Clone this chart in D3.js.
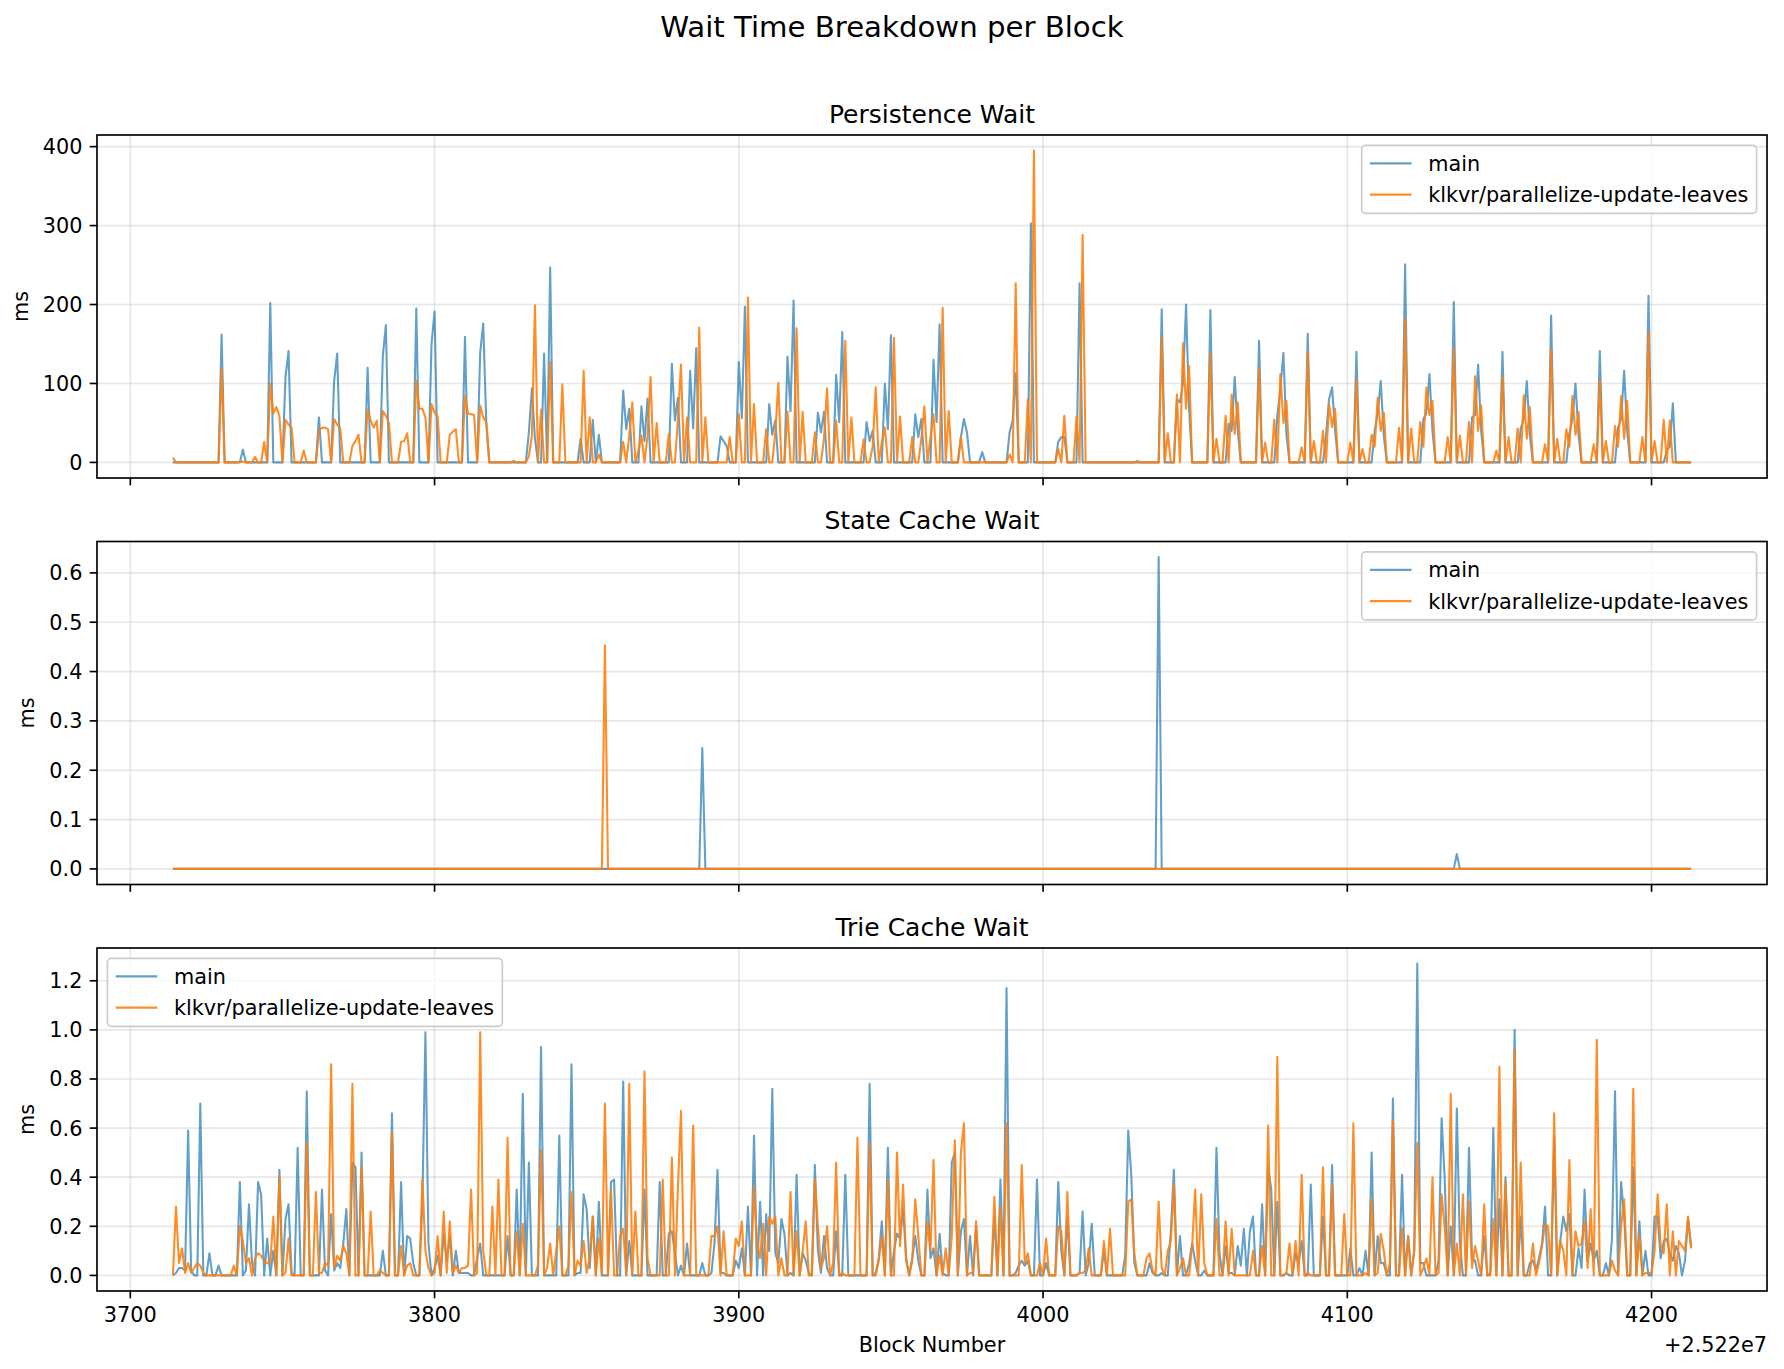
<!DOCTYPE html>
<html>
<head>
<meta charset="utf-8">
<script src="https://cdn.jsdelivr.net/npm/d3@7"></script>
<style>
  body { margin: 0; background: #fff; }
  svg { display: block; font-family: "DejaVu Sans", sans-serif; }
</style>
</head>
<body>
<div id="viz"></div>
<script>
// one value per block, blocks 25223714 .. 25224213
var firstBlock = 25223714
var blockOffset = 25220000
var seriesNames = ["main", "klkvr/parallelize-update-leaves"]

var persistenceMain = [
  0,0,0,0,0,0,0,0,0,0, 0,0,0,0,0,0,162,0,0,0, 0,0,0,16,0,0,0,0,0,0,
  0,0,202,0,0,0,0,108,141,0, 0,0,0,0,0,0,0,0,57,0, 0,0,0,103,138,0,0,0,0,0,
  0,0,0,0,120,0,0,0,0,135, 174,0,0,0,0,0,0,0,0,0, 195,0,0,0,0,150,191,0,0,0,
  0,0,0,0,0,0,159,0,0,0, 0,139,176,50,0,0,0,0,0,0, 0,0,0,0,0,0,0,38,94,30,
  0,0,138,0,247,0,0,0,0,0, 0,0,0,0,30,0,0,0,54,0, 35,0,0,0,0,0,0,0,91,42,
  68,0,0,0,71,27,81,0,0,0, 0,0,0,0,125,53,82,0,0,0, 116,43,145,0,0,0,0,0,0,0,
  33,27,21,0,0,0,127,56,197,0, 0,0,0,0,0,0,74,35,53,0, 0,0,134,65,205,0,0,0,0,0,
  0,0,63,38,64,0,0,0,111,51, 165,0,0,0,0,0,0,0,51,27, 40,0,0,0,100,42,161,0,0,0,
  0,0,0,0,61,32,55,0,0,0, 130,51,175,0,0,0,0,0,0,32, 55,38,0,0,0,0,13,0,0,0,
  0,0,0,0,0,38,53,113,0,0, 0,0,303,0,0,0,0,0,0,0, 0,26,32,32,0,0,0,0,227,0,
  0,0,0,0,0,0,0,0,0,0, 0,0,0,0,0,0,0,0,0,0, 0,0,0,0,0,194,0,0,0,0,
  80,76,100,200,68,0,0,0,0,0, 0,193,0,0,0,0,0,49,40,108, 40,0,0,0,0,0,0,154,0,0,
  0,0,0,59,93,139,35,0,0,0, 0,0,0,163,0,0,0,0,0,34, 80,95,40,0,0,0,0,0,0,140,
  0,0,0,0,0,40,62,103,34,0, 0,0,0,0,0,251,0,0,0,0, 0,55,62,112,40,0,0,0,0,0,
  0,203,0,0,0,0,0,57,60,124, 40,0,0,0,0,0,0,140,0,0, 0,0,0,43,55,103,35,0,0,0,
  0,0,0,186,0,0,0,0,0,37, 55,100,35,0,0,0,0,0,0,141, 0,0,0,0,0,44,55,116,40,0,
  0,0,0,0,0,211,0,0,0,0, 0,15,20,75,0,0,0,0,0,0
]

var persistenceBranch = [
  6,0,0,0,0,0,0,0,0,0, 0,0,0,0,0,0,120,0,0,0, 0,0,1,1,0,0,0,7,0,0,
  26,0,100,62,70,59,0,54,48,44, 0,0,0,15,0,0,0,0,40,44, 44,42,0,55,48,43,0,0,0,21,
  27,35,0,0,67,53,44,53,0,65, 59,50,0,0,0,26,27,37,0,0, 103,68,68,57,0,74,63,58,0,0,
  0,35,39,42,0,0,84,62,61,60, 0,72,57,51,0,0,0,0,0,0, 0,0,2,0,0,0,0,8,34,199,
  0,67,0,0,127,0,0,0,99,0, 0,0,0,0,0,116,0,57,0,0, 10,0,0,0,0,0,0,0,26,0,
  34,76,0,15,34,0,34,108,0,50, 0,0,0,36,0,0,55,124,0,57, 0,0,0,171,0,57,0,0,0,0,
  0,0,0,32,0,0,61,0,0,209, 0,74,0,0,0,42,0,0,38,101, 0,0,64,0,0,170,0,64,0,0,
  0,38,0,0,30,94,0,0,53,0, 0,154,0,57,0,0,0,29,0,0, 20,95,0,25,44,0,0,158,0,58,
  0,0,0,32,0,0,30,71,0,32, 61,0,0,196,0,65,0,0,0,32, 0,0,0,0,0,0,0,0,0,0,
  0,0,0,0,0,10,0,227,0,0, 0,80,0,395,0,0,0,0,0,0, 0,17,0,59,0,0,0,58,0,288,
  0,0,0,0,0,0,0,0,0,0, 0,0,0,0,0,0,0,2,0,0, 0,0,0,0,0,158,0,37,0,0,
  86,0,151,68,122,0,0,0,0,0, 0,138,0,30,0,0,59,0,86,36, 76,0,0,0,0,0,0,118,0,25,
  0,0,54,0,112,50,78,0,0,0, 0,19,0,140,0,27,0,0,40,0, 74,45,68,0,0,0,0,25,0,105,
  0,17,0,0,35,20,82,40,63,0, 0,0,0,44,0,182,0,43,0,0, 51,20,95,60,78,0,0,0,0,32,
  0,145,0,34,0,0,51,0,109,40, 72,0,0,0,0,15,0,109,0,32, 0,0,43,0,85,30,70,0,0,0,
  0,23,0,143,0,30,0,0,42,20, 84,35,64,0,0,0,0,23,0,105, 0,27,0,0,46,20,84,30,78,0,
  0,0,0,32,0,165,0,27,0,0, 54,0,53,0,0,0,0,0,0,0
]

// state cache wait is zero except for these blocks
var stateCacheMainSpikes = [[25223888, 0.245], [25224038, 0.632], [25224136, 0.03]]
var stateCacheBranchSpikes = [[25223856, 0.453]]

var trieMain = [
  0,0.01,0.03,0.03,0.02,0.59,0.02,0,0,0.70, 0,0,0.09,0,0,0.04,0,0,0,0,
  0,0,0.38,0,0.02,0.29,0.05,0,0.38,0.33, 0,0.15,0,0.10,0,0.43,0,0.23,0.29,0.01,
  0,0.52,0,0,0.75,0,0,0,0,0.35, 0.02,0,0.25,0.02,0.05,0.03,0.13,0.27,0,0.46,
  0.44,0,0.50,0,0,0,0,0,0,0.10, 0,0,0.66,0,0,0.38,0,0.16,0.15,0.05,
  0,0,0.30,0.99,0.13,0,0.03,0.08,0,0.17, 0.06,0.16,0,0.10,0.01,0.01,0.01,0.01,0,0,
  0.07,0.13,0,0,0,0,0,0,0,0, 0.16,0,0,0.35,0,0.74,0,0.46,0,0,
  0,0.93,0,0,0,0,0,0.57,0,0, 0,0.86,0,0.01,0.01,0.33,0.27,0.03,0.24,0,
  0.30,0,0,0,0.38,0.39,0,0,0.79,0, 0.14,0,0,0,0,0.35,0,0,0,0,
  0.38,0,0,0.17,0.18,0.09,0,0.04,0,0.13, 0,0,0,0,0.05,0,0,0.01,0.13,0.43,
  0.01,0.01,0,0,0,0.06,0.03,0.11,0,0.28, 0,0.57,0,0.30,0,0.25,0.10,0.76,0.09,0.05,
  0.23,0.17,0,0.01,0,0.41,0,0.09,0.06,0.01, 0,0.45,0.10,0.01,0.16,0.03,0,0,0.18,0,
  0,0.41,0,0,0,0,0,0,0,0.78, 0,0.01,0.07,0.22,0,0.52,0,0.10,0.17,0.15,
  0.27,0.07,0,0.07,0.16,0.06,0,0,0.35,0.07, 0.11,0,0.17,0.01,0,0,0.46,0.50,0,0.18,
  0.23,0,0.16,0,0.20,0,0,0,0,0, 0.24,0,0.39,0,1.17,0,0,0.01,0.04,0.06,
  0.04,0.06,0,0,0.39,0,0,0.05,0,0, 0,0.38,0.10,0,0.24,0,0,0,0.01,0.26,
  0,0.05,0.21,0,0,0,0.10,0,0,0, 0,0,0,0.08,0.59,0.41,0.05,0,0,0,
  0,0.05,0.01,0,0,0.01,0,0,0.18,0.43, 0,0.16,0,0,0.05,0.13,0.06,0,0,0.02,
  0,0,0,0.52,0.09,0,0.12,0.01,0.01,0, 0.12,0.04,0.19,0,0.18,0.24,0,0,0.29,0,
  0.44,0.35,0,0.30,0,0,0.01,0,0,0.09, 0.05,0.14,0,0,0.37,0,0,0,0.24,0,
  0,0.45,0,0,0,0,0,0.11,0,0, 0.03,0,0.10,0,0.50,0,0.16,0.05,0.05,0,
  0,0.72,0,0,0.41,0,0.16,0,0.10,1.27, 0.05,0.05,0,0,0,0,0.06,0.64,0.40,0,
  0.20,0,0.68,0.13,0,0,0.52,0.07,0.06,0, 0,0.16,0,0.01,0.60,0,0.31,0,0.40,0,
  0,1.00,0,0.24,0,0,0.05,0.06,0.02,0.07, 0.13,0.28,0,0,0.56,0,0.14,0.24,0.18,0.25,
  0,0,0.11,0.03,0.35,0.06,0.13,0.06,0.10,0, 0,0.05,0,0.15,0.75,0,0.38,0.24,0,0,
  0.44,0,0.22,0,0.10,0,0,0.24,0.24,0.07, 0.14,0.15,0.09,0.06,0.12,0.09,0,0.06,0.23,0.12
]

var trieBranch = [
  0,0.28,0.05,0.11,0.01,0.05,0.01,0.03,0.05,0.04, 0.01,0,0,0,0,0,0,0,0,0,
  0.04,0,0.20,0.14,0.05,0.07,0,0.07,0.09,0.08, 0.06,0.05,0.05,0.24,0,0.40,0,0.01,0.15,0,
  0,0,0,0,0.54,0,0,0.34,0.01,0.01, 0.05,0.04,0.86,0.03,0.08,0.06,0.12,0.09,0,0.78,
  0,0,0.44,0,0,0.26,0,0,0.02,0.01, 0,0,0.58,0,0,0.12,0,0.04,0.05,0,
  0,0,0.39,0.10,0.03,0,0.01,0.16,0,0.26, 0.01,0.22,0.01,0.04,0.01,0.03,0.03,0.04,0.35,0,
  0.01,0.99,0.10,0,0,0.28,0,0.39,0,0, 0.56,0,0,0.18,0,0.21,0,0,0,0,
  0.04,0.51,0,0.03,0.13,0,0.10,0.20,0,0, 0.04,0.34,0,0.06,0.04,0.14,0.01,0.07,0.24,0,
  0.15,0,0.70,0,0.35,0,0,0.16,0.19,0, 0.78,0,0.26,0,0,0.83,0.07,0,0,0,
  0,0.39,0,0,0.48,0,0.36,0.67,0,0, 0,0.61,0,0,0,0,0,0.16,0.16,0.20,
  0,0.18,0,0,0,0.15,0.12,0.22,0,0, 0,0.36,0.13,0.07,0.21,0,0.24,0.21,0.24,0,
  0.07,0,0,0.34,0,0.18,0,0.10,0.22,0, 0,0.39,0.20,0.03,0.07,0.20,0,0.05,0.46,0,
  0.01,0,0,0,0,0.56,0,0,0,0.54, 0,0,0.06,0.16,0,0.39,0,0,0.50,0.12,
  0.37,0.06,0,0.06,0.31,0.16,0,0,0.22,0.10, 0.47,0,0.08,0,0.11,0,0.16,0.55,0,0.50,
  0.62,0,0.01,0.01,0.22,0,0,0,0,0, 0.32,0,0.28,0,0.62,0,0,0,0,0.45,
  0.05,0.09,0,0,0,0.05,0,0.15,0,0, 0,0.20,0.18,0,0.34,0,0,0,0.01,0.01,
  0.02,0.11,0,0,0,0,0.14,0,0.19,0, 0,0,0,0,0.30,0.31,0.09,0,0,0,
  0.07,0.09,0.02,0,0.30,0.03,0,0.10,0.14,0.37, 0,0.03,0.07,0,0,0.12,0.35,0,0.33,0.05,
  0,0,0,0.23,0,0,0.22,0,0.19,0, 0,0,0,0,0,0.10,0,0,0.12,0,
  0.61,0,0,0.89,0,0,0.01,0.13,0,0.14, 0,0.41,0,0.01,0,0,0,0,0.44,0,
  0,0.37,0,0,0,0.25,0,0,0.62,0, 0,0,0.01,0,0.31,0,0.01,0.17,0.10,0,
  0.05,0.63,0,0,0.19,0,0.16,0,0.10,0.54, 0,0.03,0.07,0,0.40,0,0.01,0.33,0.20,0,
  0.74,0,0.13,0,0.33,0,0.30,0.03,0.12,0.06, 0,0.29,0,0,0.23,0,0.85,0,0.38,0,
  0,0.92,0,0.46,0,0,0,0.13,0,0.05, 0.12,0.21,0.20,0,0.66,0,0.14,0.10,0,0.47,
  0,0.18,0.12,0.13,0.22,0.03,0.27,0,0.96,0, 0,0,0,0.06,0.02,0,0.20,0.31,0,0,
  0.76,0,0.16,0,0.01,0.01,0.01,0.10,0.33,0.12, 0.09,0.29,0,0.18,0,0.14,0.12,0.10,0.24,0.11
]

var blocks = d3.range(persistenceMain.length).map(i => firstBlock + i)

function spikesToSeries(spikes) {
  var vals = blocks.map(() => 0)
  spikes.forEach(s => { vals[s[0] - firstBlock] = s[1] })
  return vals
}

var stateCacheMain = spikesToSeries(stateCacheMainSpikes)
var stateCacheBranch = spikesToSeries(stateCacheBranchSpikes)

// ---------- layout (matplotlib at 150 dpi)
var width = 1784, height = 1369
var fs = 20.8                       // 10pt
var left = 97, right = 1767
var panelH = 343
var tickLen = 7.3, tickPad = 7.3
var colors = ["#1f77b4", "#ff7f0e"]
var alphas = [0.7, 0.9]

var panels = [
  { title: "Persistence Wait", top: 135, series: [persistenceMain, persistenceBranch], ticks: 5, fmt: d3.format("d"), legend: "right" },
  { title: "State Cache Wait", top: 541.5, series: [stateCacheMain, stateCacheBranch], ticks: 7, fmt: d3.format(".1f"), legend: "right" },
  { title: "Trie Cache Wait", top: 948, series: [trieMain, trieBranch], ticks: 7, fmt: d3.format(".1f"), legend: "left" }
]

var svg = d3.select("#viz")
  .append("svg")
  .attr("width", width)
  .attr("height", height)

svg.append("rect").attr("width", width).attr("height", height).attr("fill", "#fff")

svg.append("text")
  .attr("x", width / 2)
  .attr("y", 37)
  .attr("text-anchor", "middle")
  .style("font-size", "29.2px")
  .text("Wait Time Breakdown per Block")

// shared x scale with 5% margins like matplotlib
var xExt = d3.extent(blocks)
var xPad = (xExt[1] - xExt[0]) * 0.05
var x = d3.scaleLinear()
  .domain([xExt[0] - xPad, xExt[1] + xPad])
  .range([left, right])
var xTicks = x.ticks(6)

panels.forEach((p, pi) => {
  var top = p.top, bottom = top + panelH
  var allVals = p.series[0].concat(p.series[1])
  var yExt = d3.extent(allVals)
  var yPad = (yExt[1] - yExt[0]) * 0.05
  var y = d3.scaleLinear()
    .domain([yExt[0] - yPad, yExt[1] + yPad])
    .range([bottom, top])
  var yTicks = y.ticks(p.ticks).filter(d => d >= 0)

  var g = svg.append("g")

  // grid
  g.selectAll(".gx").data(xTicks).enter().append("line")
    .attr("x1", d => x(d)).attr("x2", d => x(d))
    .attr("y1", top).attr("y2", bottom)
    .style("stroke", "#b0b0b0").style("stroke-opacity", 0.3).style("stroke-width", 1.67)
  g.selectAll(".gy").data(yTicks).enter().append("line")
    .attr("x1", left).attr("x2", right)
    .attr("y1", d => y(d)).attr("y2", d => y(d))
    .style("stroke", "#b0b0b0").style("stroke-opacity", 0.3).style("stroke-width", 1.67)

  // lines
  p.series.forEach((vals, si) => {
    var line = d3.line()
      .x((d, i) => x(blocks[i]))
      .y(d => y(d))
    g.append("path")
      .datum(vals)
      .attr("d", line)
      .style("fill", "none")
      .style("stroke", colors[si])
      .style("stroke-opacity", alphas[si])
      .style("stroke-width", 2.08)
      .style("stroke-linejoin", "round")
  })

  // spines
  g.append("rect")
    .attr("x", left).attr("y", top)
    .attr("width", right - left).attr("height", panelH)
    .style("fill", "none").style("stroke", "#000").style("stroke-width", 1.67)

  // x ticks
  g.selectAll(".tx").data(xTicks).enter().append("line")
    .attr("x1", d => x(d)).attr("x2", d => x(d))
    .attr("y1", bottom).attr("y2", bottom + tickLen)
    .style("stroke", "#000").style("stroke-width", 1.67)

  // y ticks + labels
  g.selectAll(".ty").data(yTicks).enter().append("line")
    .attr("x1", left - tickLen).attr("x2", left)
    .attr("y1", d => y(d)).attr("y2", d => y(d))
    .style("stroke", "#000").style("stroke-width", 1.67)
  var yl = g.append("g")
  yl.selectAll("text").data(yTicks).enter().append("text")
    .attr("x", left - tickLen - tickPad)
    .attr("y", d => y(d))
    .attr("dy", "0.36em")
    .attr("text-anchor", "end")
    .style("font-size", fs + "px")
    .text(d => p.fmt(d))
  var ylBox = yl.node().getBBox()

  g.append("text")
    .attr("transform", "translate(" + (ylBox.x - 15) + "," + (top + panelH / 2) + ") rotate(-90)")
    .attr("text-anchor", "middle")
    .style("font-size", fs + "px")
    .text("ms")

  // title
  g.append("text")
    .attr("x", (left + right) / 2)
    .attr("y", top - 12.5)
    .attr("text-anchor", "middle")
    .style("font-size", "25px")
    .text(p.title)

  // x tick labels only on the bottom panel (shared x)
  if (pi == panels.length - 1) {
    g.selectAll(".lx").data(xTicks).enter().append("text")
      .attr("x", d => x(d))
      .attr("y", bottom + tickLen + tickPad + 16)
      .attr("text-anchor", "middle")
      .style("font-size", fs + "px")
      .text(d => d - blockOffset)
    g.append("text")
      .attr("x", (left + right) / 2)
      .attr("y", 1352)
      .attr("text-anchor", "middle")
      .style("font-size", fs + "px")
      .text("Block Number")
    g.append("text")
      .attr("x", right)
      .attr("y", 1352)
      .attr("text-anchor", "end")
      .style("font-size", fs + "px")
      .text("+2.522e7")
  }

  drawLegend(g, p.legend, top)
})

function drawLegend(g, side, top) {
  var pad = 8.3, handle = 41.6, gap = 16.6, rowStep = 31.2, axPad = 10.4
  var lg = g.append("g")
  var box = lg.append("rect")
  var labels = seriesNames.map((name, i) => lg.append("text")
    .attr("y", 0)
    .style("font-size", fs + "px")
    .text(name))
  var textW = d3.max(labels, t => t.node().getComputedTextLength())
  var boxW = pad * 2 + handle + gap + textW
  var boxH = 68
  var bx = side == "right" ? right - axPad - boxW : left + axPad
  var by = top + axPad
  box.attr("x", bx).attr("y", by)
    .attr("width", boxW).attr("height", boxH)
    .attr("rx", 4)
    .style("fill", "#fff").style("fill-opacity", 0.8)
    .style("stroke", "#cccccc").style("stroke-width", 1.67)
  labels.forEach((t, i) => {
    var cy = by + 18 + i * rowStep
    lg.append("line")
      .attr("x1", bx + pad).attr("x2", bx + pad + handle)
      .attr("y1", cy).attr("y2", cy)
      .style("stroke", colors[i])
      .style("stroke-opacity", alphas[i])
      .style("stroke-width", 2.08)
    t.attr("x", bx + pad + handle + gap).attr("y", cy).attr("dy", "0.36em")
  })
}
</script>
</body>
</html>
